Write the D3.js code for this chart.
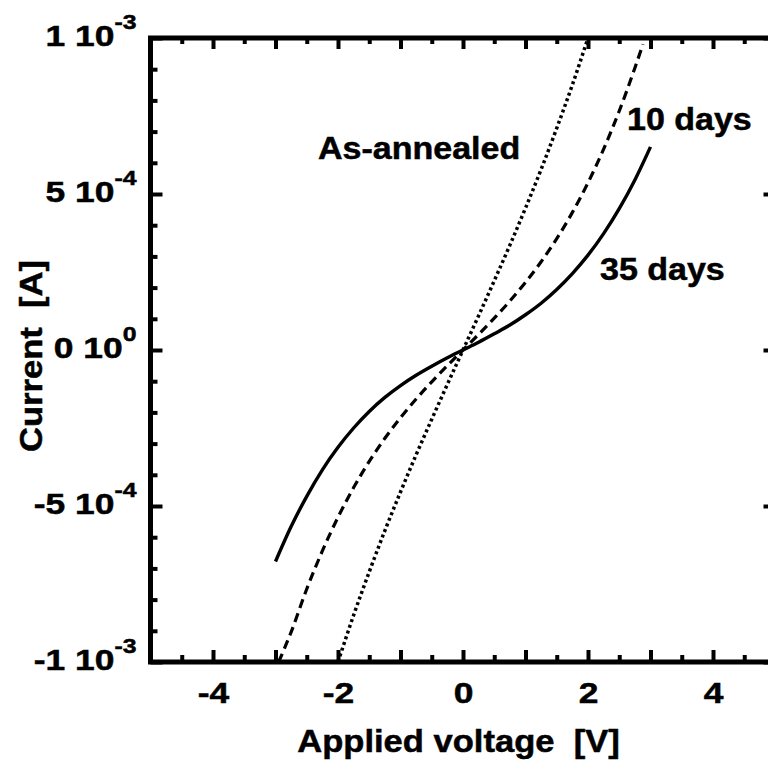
<!DOCTYPE html>
<html>
<head>
<meta charset="utf-8">
<script src="https://cdn.jsdelivr.net/npm/d3@7"></script>
<style>
  body { margin: 0; background: #fff; }
  svg { display: block; }
  text { font-family: "Liberation Sans", Arial, Helvetica, sans-serif; font-weight: bold; fill: #000; stroke: #000; stroke-width: 0.5px; }
</style>
</head>
<body>
<svg id="chart" width="768" height="762"></svg>
<script>
// Current values are in units of 1e-4 A, voltages in V.
const voltageAsAnnealed = [-2, -1.75, -1.5, -1.25, -1, -0.75, -0.5, -0.25, 0, 0.25, 0.5, 0.75, 1, 1.25, 1.5, 1.75, 2];
const currentAsAnnealed = [-10.0, -8.50, -7.11, -5.79, -4.55, -3.36, -2.22, -1.10, 0, 1.10, 2.22, 3.36, 4.55, 5.79, 7.11, 8.50, 10.0];

const voltage10Days = [-2.95, -2.75, -2.5, -2.25, -2, -1.75, -1.5, -1.25, -1, -0.75, -0.5, -0.25, 0, 0.25, 0.5, 0.75, 1, 1.25, 1.5, 1.75, 2, 2.25, 2.5, 2.75, 2.88];
const current10Days = [-10.0, -9.04, -7.66, -6.44, -5.36, -4.41, -3.57, -2.83, -2.17, -1.57, -1.02, -0.50, 0, 0.50, 1.02, 1.57, 2.17, 2.83, 3.57, 4.41, 5.36, 6.44, 7.66, 9.04, 9.8];

const voltage35Days = [-3, -2.75, -2.5, -2.25, -2, -1.75, -1.5, -1.25, -1, -0.75, -0.5, -0.25, 0, 0.25, 0.5, 0.75, 1, 1.25, 1.5, 1.75, 2, 2.25, 2.5, 2.75, 3];
const current35Days = [-6.78, -5.66, -4.69, -3.84, -3.12, -2.5, -1.97, -1.52, -1.14, -0.81, -0.52, -0.25, 0, 0.25, 0.52, 0.8, 1.13, 1.5, 1.94, 2.45, 3.04, 3.73, 4.53, 5.45, 6.51];

const seriesNames = ["As-annealed", "10 days", "35 days"];

const xMajorTicks = [-5, -4, -3, -2, -1, 0, 1, 2, 3, 4, 5];
const xMinorTicks = [-4.5, -3.5, -2.5, -1.5, -0.5, 0.5, 1.5, 2.5, 3.5, 4.5];
const xTickLabels = ["", "-4", "", "-2", "", "0", "", "2", "", "4", ""];

const yMajorTicks = [-10, -5, 0, 5, 10];
const yMinorTicks = [-9, -8, -7, -6, -4, -3, -2, -1, 1, 2, 3, 4, 6, 7, 8, 9];
const yTickMantissa = ["-1", "-5", "0", "5", "1"];
const yTickExponent = ["-3", "-4", "0", "-4", "-3"];

const xTitle = "Applied voltage  [V]";
const yTitle = "Current  [A]";

const svg = d3.select("#chart");
const x = d3.scaleLinear().domain([-5, 5]).range([150.5, 775.5]);
const y = d3.scaleLinear().domain([-10, 10]).range([662, 38]);
const [x0, x1] = x.range();
const [y0, y1] = [y(10), y(-10)];

const STRETCH = 1.18;   // tick label width factor
const STRETCH_T = 1.08; // title / annotation width factor

// clip region for the curves
svg.append("defs").append("clipPath").attr("id", "plot-clip")
  .append("rect").attr("x", x0).attr("y", y0).attr("width", x1 - x0).attr("height", y1 - y0);

// ---- axes (ticks point inward) ----
function styleTicks(g, w) {
  g.select(".domain").remove();
  g.selectAll(".tick line").attr("stroke", "#000").attr("stroke-width", w);
}

// bottom
const bottomMajor = svg.append("g").attr("transform", `translate(0,${y1})`)
  .call(d3.axisBottom(x).tickValues(xMajorTicks).tickSizeInner(-12).tickSizeOuter(0)
        .tickFormat((d, i) => xTickLabels[i]));
styleTicks(bottomMajor, 4);
bottomMajor.selectAll(".tick text")
  .attr("y", null).attr("dy", null)
  .attr("transform", `translate(0,41) scale(${STRETCH},1)`)
  .attr("font-size", 30).attr("font-family", null).attr("fill", "#000");
const bottomMinor = svg.append("g").attr("transform", `translate(0,${y1})`)
  .call(d3.axisBottom(x).tickValues(xMinorTicks).tickSizeInner(-7).tickSizeOuter(0).tickFormat(""));
styleTicks(bottomMinor, 4);

// top
const topMajor = svg.append("g").attr("transform", `translate(0,${y0})`)
  .call(d3.axisTop(x).tickValues(xMajorTicks).tickSizeInner(-11).tickSizeOuter(0).tickFormat(""));
styleTicks(topMajor, 4);
const topMinor = svg.append("g").attr("transform", `translate(0,${y0})`)
  .call(d3.axisTop(x).tickValues(xMinorTicks).tickSizeInner(-6).tickSizeOuter(0).tickFormat(""));
styleTicks(topMinor, 4);

// left
const leftMajor = svg.append("g").attr("transform", `translate(${x0},0)`)
  .call(d3.axisLeft(y).tickValues(yMajorTicks).tickSizeInner(-12).tickSizeOuter(0).tickFormat(""));
styleTicks(leftMajor, 4);
leftMajor.selectAll(".tick text").remove();
leftMajor.selectAll(".tick").each(function (d, i) {
  const t = d3.select(this).append("text")
    .attr("text-anchor", "end")
    .attr("transform", `translate(-14,7) scale(${STRETCH},1)`)
    .attr("font-size", 30);
  t.append("tspan").text(yTickMantissa[i] + " 10");
  t.append("tspan").attr("dy", -17).attr("font-size", 21).text(yTickExponent[i]);
});
const leftMinor = svg.append("g").attr("transform", `translate(${x0},0)`)
  .call(d3.axisLeft(y).tickValues(yMinorTicks).tickSizeInner(-7).tickSizeOuter(0).tickFormat(""));
styleTicks(leftMinor, 4);

// right
const rightMajor = svg.append("g").attr("transform", `translate(${x1},0)`)
  .call(d3.axisRight(y).tickValues(yMajorTicks).tickSizeInner(-12).tickSizeOuter(0).tickFormat(""));
styleTicks(rightMajor, 4);
const rightMinor = svg.append("g").attr("transform", `translate(${x1},0)`)
  .call(d3.axisRight(y).tickValues(yMinorTicks).tickSizeInner(-7).tickSizeOuter(0).tickFormat(""));
styleTicks(rightMinor, 4);

// frame
svg.append("rect")
  .attr("x", x0).attr("y", y0).attr("width", x1 - x0).attr("height", y1 - y0)
  .attr("fill", "none").attr("stroke", "#000").attr("stroke-width", 5);

// ---- curves ----
const line = d3.line().x(d => x(d[0])).y(d => y(d[1])).curve(d3.curveMonotoneX);
const curves = [
  { v: voltageAsAnnealed, c: currentAsAnnealed, dash: "3,3", w: 3.5 },
  { v: voltage10Days, c: current10Days, dash: "9,5.5", w: 3.2 },
  { v: voltage35Days, c: current35Days, dash: null, w: 3.4 }
];
const plot = svg.append("g").attr("clip-path", "url(#plot-clip)");
curves.forEach(s => {
  plot.append("path")
    .datum(d3.zip(s.v, s.c))
    .attr("d", line)
    .attr("fill", "none")
    .attr("stroke", "#000")
    .attr("stroke-width", s.w)
    .attr("stroke-dasharray", s.dash);
});

// ---- series annotations ----
const labelPos = [[318, 159], [627, 130], [600, 280]];
seriesNames.forEach((name, i) => {
  svg.append("text")
    .attr("transform", `translate(${labelPos[i][0]},${labelPos[i][1]}) scale(${STRETCH_T},1)`)
    .attr("font-size", 31.5)
    .text(name);
});

// ---- axis titles ----
svg.append("text")
  .attr("text-anchor", "middle")
  .attr("transform", `translate(458.5,752) scale(${STRETCH_T},1)`)
  .attr("font-size", 32)
  .style("white-space", "pre")
  .text(xTitle);
svg.append("text")
  .attr("text-anchor", "middle")
  .attr("transform", `translate(42,356) rotate(-90) scale(${STRETCH_T},1)`)
  .attr("font-size", 32)
  .style("white-space", "pre")
  .text(yTitle);
</script>
</body>
</html>
